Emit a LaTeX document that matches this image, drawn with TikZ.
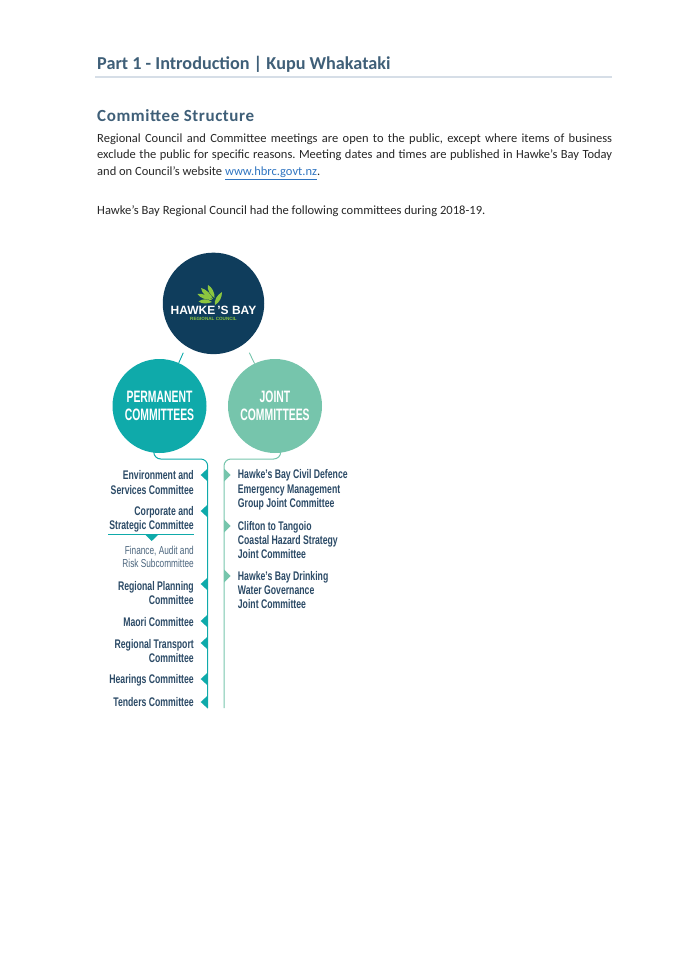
\documentclass[tikz,border=0pt]{standalone}
\usepackage{fontspec}
\setmainfont{Carlito}
\newfontfamily\titlefont[BoldFont=Carlito Bold]{Carlito}
\newfontfamily\headfont[LetterSpace=3.5,BoldFont=Carlito Bold]{Carlito}
\newfontfamily\chartfont[FakeStretch=0.695,BoldFont=Liberation Sans Bold]{Liberation Sans}
\newfontfamily\bigfont[FakeStretch=0.63,BoldFont=Liberation Sans Bold]{Liberation Sans}
\newfontfamily\thinchart[FakeStretch=0.72]{Liberation Sans}
\newfontfamily\logofont[BoldFont=Liberation Sans Bold]{Liberation Sans}
\definecolor{navy}{HTML}{0F3D5C}
\definecolor{teal1}{HTML}{0FAAAA}
\definecolor{mint}{HTML}{76C5AC}
\definecolor{heading}{HTML}{3F5F78}
\definecolor{chartink}{HTML}{2B4A66}
\definecolor{leafgreen}{HTML}{8CC63F}
\definecolor{linkblue}{HTML}{2F74C0}
\definecolor{rulegrey}{HTML}{D6DEE7}
\tikzset{
  x=1pt,y=-1pt,
  circ/.style={circle,inner sep=0,outer sep=0,minimum size=#1},
  bigtxt/.style={text=white,align=center,font=\bigfont\bfseries\fontsize{16.5}{18.3}\selectfont},
  permline/.style={draw=teal1,line width=1pt,rounded corners=7pt},
  jointline/.style={draw=mint,line width=1pt,rounded corners=7pt},
  lefttxt/.style={anchor=east,align=right,inner sep=0,text=chartink,font=\chartfont\bfseries\fontsize{12.5}{14.4}\selectfont},
  righttxt/.style={anchor=west,align=left,inner sep=0,text=chartink,font=\chartfont\bfseries\fontsize{12.5}{14.4}\selectfont},
  subtxt/.style={anchor=east,align=right,inner sep=0,text=chartink!85,font=\thinchart\fontsize{11.5}{13.5}\selectfont},
  leaf/.style={fill=leafgreen,draw=none},
}
\begin{document}
\begin{tikzpicture}
\useasboundingbox (0,0) rectangle (675,955);
% page text
\node[anchor=base west,inner sep=0,text=heading,font=\titlefont\bfseries\fontsize{18.2}{22}\selectfont] (title) at (97,69.5) {Part 1 - Introduction | Kupu Whakataki};
\coordinate (ruleL) at (95,77);
\coordinate (ruleR) at (612,77);
\draw[rulegrey,line width=2pt] (ruleL) -- (ruleR);
\node[anchor=base west,inner sep=0,text=heading,font=\headfont\bfseries\fontsize{17}{20}\selectfont] (section) at (97,121.5) {Committee Structure};
\node[anchor=north west,inner sep=0,text width=515pt,align=justify,font=\frenchspacing\fontsize{12.5}{16.9}\selectfont,text=black!85] (para) at (97,133.2) {Regional Council and Committee meetings are open to the public, except where items of business\linebreak exclude the public for specific reasons. Meeting dates and times are published in Hawke’s Bay Today\linebreak and on Council’s website {\color{linkblue}\underline{www.hbrc.govt.nz}}.};
\node[anchor=base west,inner sep=0,font=\fontsize{12.56}{15}\selectfont,text=black!85] (intro) at (97,214.5) {Hawke’s Bay Regional Council had the following committees during 2018-19.};
% circles
\node[circ=101.5pt,fill=navy] (top) at (213.5,303.4) {};
\node[circ=94pt,fill=teal1,bigtxt] (perm) at (159.5,406) {PERMANENT\\COMMITTEES};
\node[circ=94pt,fill=mint,bigtxt] (joint) at (275,406) {JOINT\\COMMITTEES};
% connectors between circles
\coordinate (stubA) at (183.3,352.7);
\coordinate (stubB) at (249.3,352.7);
\draw[teal1,line width=0.9pt] (stubA) -- (perm);
\draw[mint,line width=0.9pt] (stubB) -- (joint);
\coordinate (pcorner) at (207.7,459);
\coordinate (pend) at (207.7,708);
\coordinate (jcorner) at (224,459);
\coordinate (jend) at (224,708);
\draw[permline] (perm.263) |- (pcorner) -- (pend);
\draw[jointline] (joint.277) |- (jcorner) -- (jend);
% logo
\node[inner sep=0,text=white,font=\logofont\bfseries\fontsize{12}{14}\selectfont] (logoname) at (213.5,310) {HAWKE\,’S BAY};
\node[inner sep=0,text=leafgreen,font=\logofont\bfseries\fontsize{4.6}{5}\selectfont] (logosub) at (213.5,319) {REGIONAL COUNCIL};
\path[leaf] (198.5,301.5) .. controls (203,298) and (208,299) .. (212,302) .. controls (207,304) and (202,304) .. (198.5,301.5) -- cycle;
\path[leaf] (197.5,294) .. controls (203,293) and (209,296) .. (212,300) .. controls (206,300) and (200,298) .. (197.5,294) -- cycle;
\path[leaf] (201,288) .. controls (206,289) and (211,294) .. (213,299) .. controls (207,298) and (202,294) .. (201,288) -- cycle;
\path[leaf] (208,285) .. controls (212,287) and (215,293) .. (214.5,298) .. controls (210,295) and (207,290) .. (208,285) -- cycle;
\path[leaf] (222,292) .. controls (222,297) and (220,302) .. (215,305) .. controls (214,300) and (217,295) .. (222,292) -- cycle;
% left list
\node[lefttxt] (p1) at (194,482.5) {Environment and\\Services Committee};
\node[lefttxt] (p2) at (194,519) {Corporate and\\Strategic Committee};
\coordinate (ulL) at (108,534.5);
\coordinate (ulR) at (194,534.5);
\draw[teal1,line width=1pt] (ulL) -- (ulR);
\fill[teal1] (145.5,535) -- (158,535) -- (151.7,541) -- cycle;
\node[subtxt] (p2a) at (194,557) {Finance, Audit and\\Risk Subcommittee};
\node[lefttxt] (p3) at (194,593) {Regional Planning\\Committee};
\node[lefttxt] (p4) at (194,622) {Maori Committee};
\node[lefttxt] (p5) at (194,651) {Regional Transport\\Committee};
\node[lefttxt] (p6) at (194,680) {Hearings Committee};
\node[lefttxt] (p7) at (194,702.5) {Tenders Committee};
\foreach \y in {475,511,584,621,643,679,702}
  \fill[teal1] (200.7,\y) -- (207.7,\y-6.5) -- (207.7,\y+6.5) -- cycle;
% right list
\node[righttxt] (j1) at (237.7,490) {Hawke’s Bay Civil Defence\\Emergency Management\\Group Joint Committee};
\node[righttxt] (j2) at (237.7,540) {Clifton to Tangoio\\Coastal Hazard Strategy\\Joint Committee};
\node[righttxt] (j3) at (237.7,590) {Hawke’s Bay Drinking\\Water Governance\\Joint Committee};
\foreach \y in {475,526,576}
  \fill[mint] (230.7,\y) -- (224,\y-6.5) -- (224,\y+6.5) -- cycle;
\end{tikzpicture}
\end{document}
